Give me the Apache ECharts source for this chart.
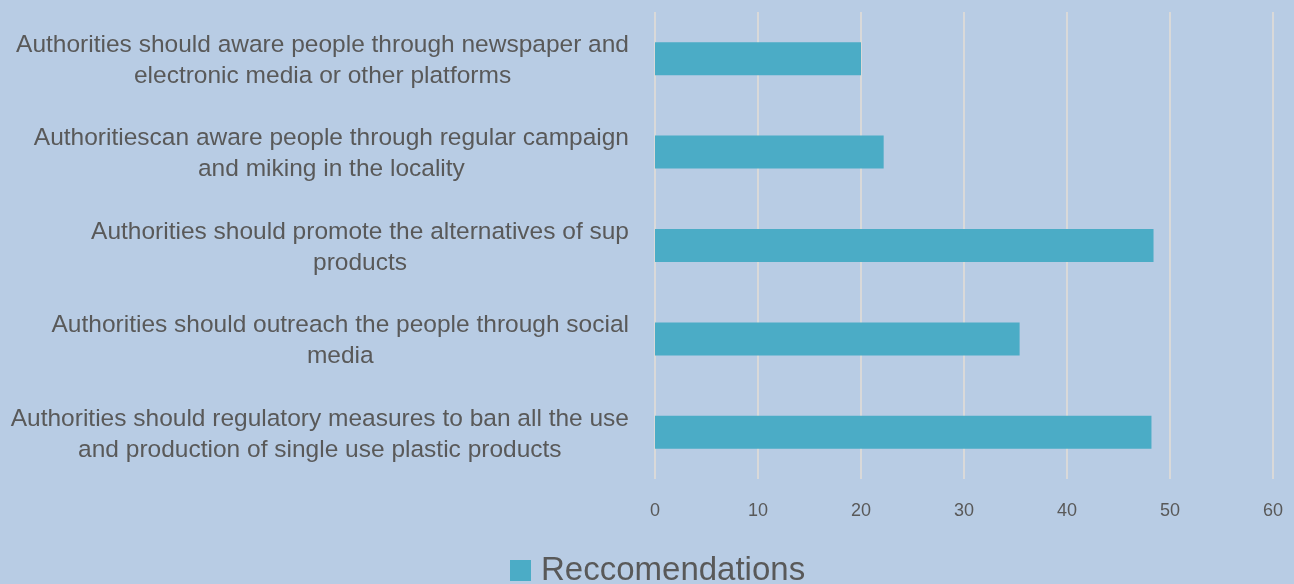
<!DOCTYPE html>
<html>
<head>
<meta charset="utf-8">
<script src="https://cdn.jsdelivr.net/npm/echarts@6/dist/echarts.min.js"></script>
<style>
  html, body { margin: 0; padding: 0; background: #b8cce4; }
  #chart { width: 1294px; height: 584px; }
</style>
</head>
<body>
<div id="chart"></div>
<script>
// Recommendation statements, listed bottom to top as drawn on the category axis
const categories = [
  'Authorities should regulatory measures to ban all the use\nand production of single use plastic products',
  'Authorities should outreach the people through social\nmedia',
  'Authorities should promote the alternatives of sup\nproducts',
  'Authoritiescan aware people through regular campaign\nand miking in the locality',
  'Authorities should aware people through newspaper and\nelectronic media or other platforms'
];
const seriesName = 'Reccomendations';
const values = [48.2, 35.4, 48.4, 22.2, 20.0];
const xTicks = { min: 0, max: 60, interval: 10 };

const textColor = '#595959';
const fontFamily = 'Liberation Sans, Arial, sans-serif';

const chart = echarts.init(document.getElementById('chart'));
chart.setOption({
  backgroundColor: '#b8cce4',
  animation: false,
  grid: { left: 655, right: 21, top: 12, bottom: 105, containLabel: false },
  legend: {
    top: 549,
    left: 505,
    itemWidth: 21,
    itemHeight: 21,
    itemGap: 10,
    icon: 'rect',
    textStyle: { color: textColor, fontSize: 33, fontFamily: fontFamily, padding: [0, 0, 0, 5] },
    data: [seriesName]
  },
  xAxis: {
    type: 'value',
    min: xTicks.min,
    max: xTicks.max,
    interval: xTicks.interval,
    axisLine: { show: false },
    axisTick: { show: false },
    splitLine: { lineStyle: { color: '#d9d9d9', width: 2 } },
    axisLabel: { color: textColor, fontSize: 18, fontFamily: fontFamily, margin: 23 }
  },
  yAxis: {
    type: 'category',
    data: categories,
    axisLine: { show: false },
    axisTick: { show: false },
    axisLabel: {
      margin: 26,
      align: 'right',
      padding: [4, 0, 0, 0],
      formatter: function (v) {
        return v.split('\n').map(function (l) { return '{c|' + l + '}'; }).join('\n');
      },
      rich: {
        c: { align: 'center', color: textColor, fontSize: 24.5, lineHeight: 31, fontFamily: fontFamily }
      }
    }
  },
  series: [{
    name: seriesName,
    type: 'bar',
    data: values,
    barWidth: 33,
    itemStyle: { color: '#4bacc6' }
  }]
});
</script>
</body>
</html>
